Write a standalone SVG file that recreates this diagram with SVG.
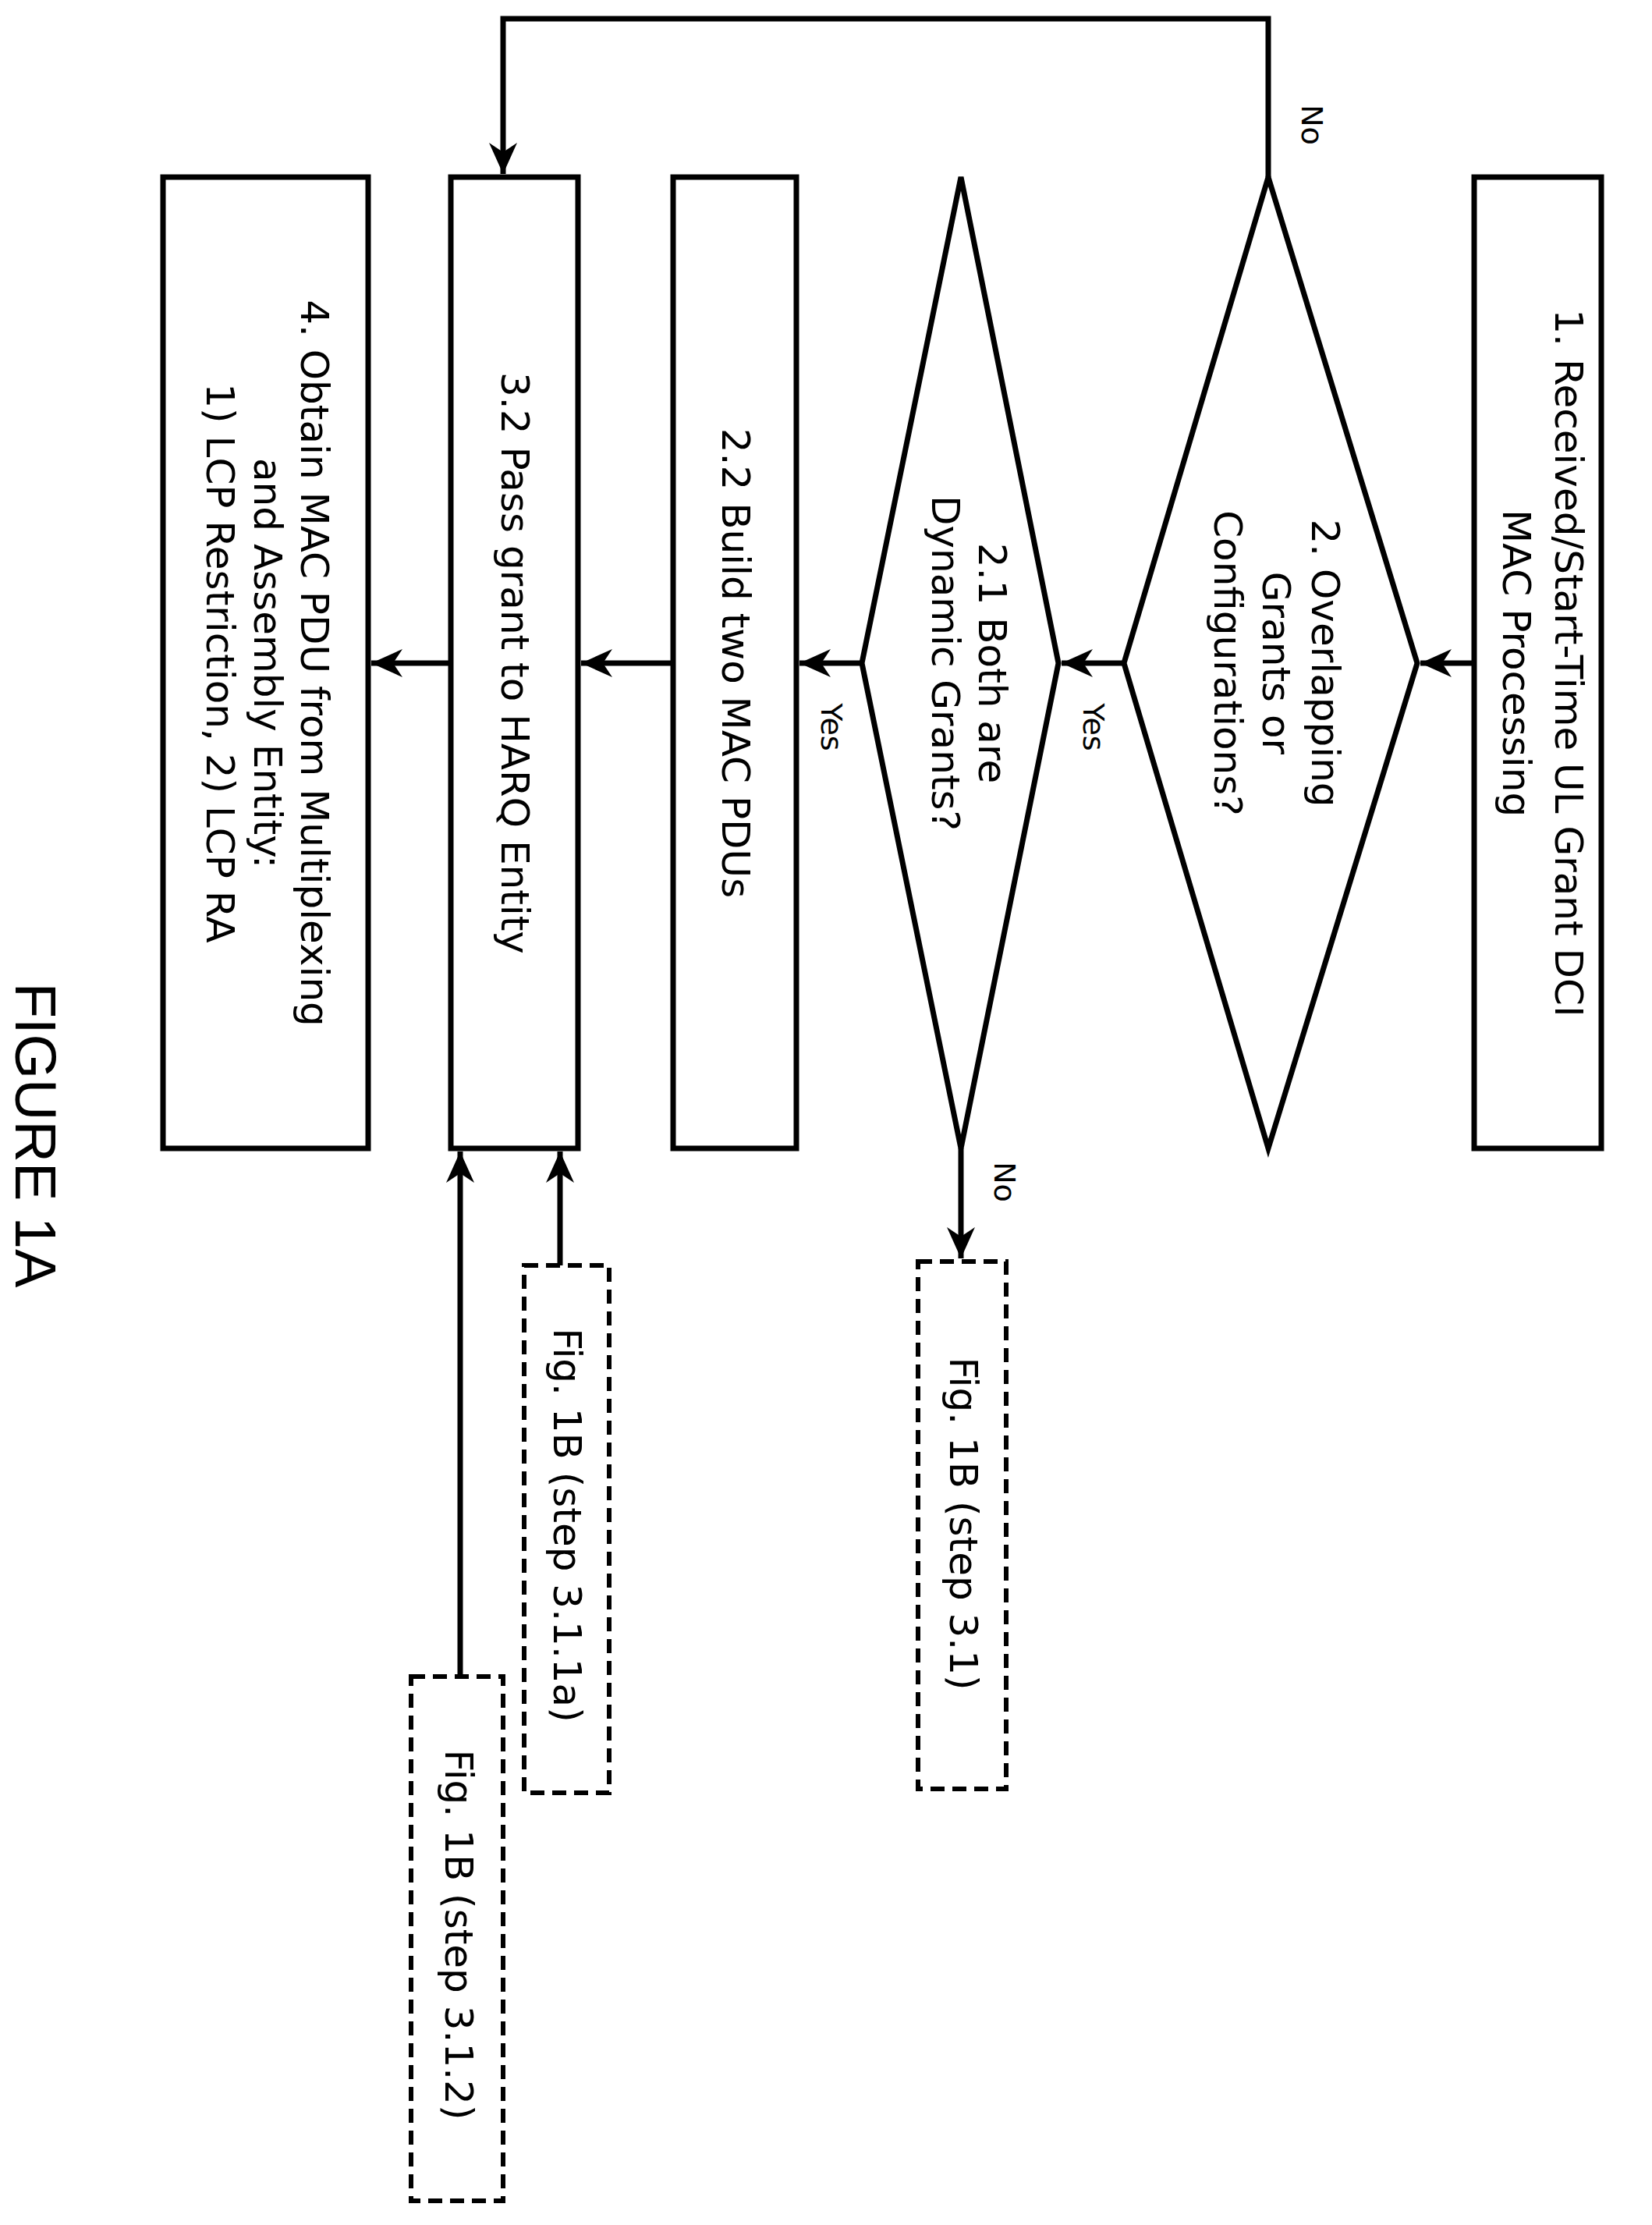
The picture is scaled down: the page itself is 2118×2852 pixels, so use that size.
<svg xmlns="http://www.w3.org/2000/svg" width="2118" height="2852" viewBox="0 0 2118 2852">
<style>
.n{fill:#fff;stroke:#000;stroke-width:7}
.d{fill:#fff;stroke:#000;stroke-width:6;stroke-dasharray:18 10}
.c{fill:none;stroke:#000;stroke-width:7}
text{font-family:"DejaVu Sans",sans-serif;font-size:50px;text-anchor:middle;dominant-baseline:central;fill:#000}
.s{font-size:38px}
.f{font-family:"Liberation Sans",Arial,sans-serif;font-size:74px}
</style>
<defs>
<marker id="a" markerUnits="userSpaceOnUse" markerWidth="50" markerHeight="50" refX="40" refY="20" orient="auto" viewBox="0 0 50 40">
<path d="M0,2 L40,20 L0,38 L12,20 Z" fill="#000"/>
</marker>
</defs>
<g id="n1"><rect class="n" x="1890" y="227" width="163" height="1245"/>
<text transform="translate(2011,850) rotate(90)">1. Received/Start-Time UL Grant DCI</text>
<text transform="translate(1944,850) rotate(90)">MAC Processing</text></g>
<g id="n2"><polygon class="n" points="1626,227 1817,850 1626,1472 1441,850"/>
<text transform="translate(1699,850) rotate(90)">2. Overlapping</text>
<text transform="translate(1636,850) rotate(90)">Grants or</text>
<text transform="translate(1574,850) rotate(90)">Configurations?</text></g>
<g id="n21"><polygon class="n" points="1232,227 1357,850 1232,1472 1105,850"/>
<text transform="translate(1272,850) rotate(90)">2.1 Both are</text>
<text transform="translate(1212,850) rotate(90)">Dynamic Grants?</text></g>
<g id="n22"><rect class="n" x="863" y="227" width="158" height="1245"/>
<text transform="translate(943,850) rotate(90)">2.2 Build two MAC PDUs</text></g>
<g id="n32"><rect class="n" x="578" y="227" width="163" height="1245"/>
<text transform="translate(660,850) rotate(90)">3.2 Pass grant to HARQ Entity</text></g>
<g id="n4"><rect class="n" x="209" y="227" width="263" height="1245"/>
<text transform="translate(403,850) rotate(90)">4. Obtain MAC PDU from Multiplexing</text>
<text transform="translate(343,850) rotate(90)">and Assembly Entity:</text>
<text transform="translate(282,850) rotate(90)">1) LCP Restriction, 2) LCP RA</text></g>
<g id="r31"><rect class="d" x="1177" y="1617" width="113" height="676"/>
<text transform="translate(1235,1953) rotate(90)">Fig. 1B (step 3.1)</text></g>
<g id="r311a"><rect class="d" x="672" y="1622" width="109" height="676"/>
<text transform="translate(727,1955) rotate(90)">Fig. 1B (step 3.1.1a)</text></g>
<g id="r312"><rect class="d" x="527" y="2149" width="118" height="672"/>
<text transform="translate(588,2480) rotate(90)">Fig. 1B (step 3.1.2)</text></g>
<g id="connectors">
<line class="c" x1="1890" y1="850" x2="1821" y2="850" marker-end="url(#a)"/>
<line class="c" x1="1441" y1="850" x2="1361" y2="850" marker-end="url(#a)"/>
<line class="c" x1="1105" y1="850" x2="1025" y2="850" marker-end="url(#a)"/>
<line class="c" x1="863" y1="850" x2="745" y2="850" marker-end="url(#a)"/>
<line class="c" x1="578" y1="850" x2="476" y2="850" marker-end="url(#a)"/>
<polyline class="c" points="1626,227 1626,24 645,24 645,223" marker-end="url(#a)"/>
<line class="c" x1="1232" y1="1472" x2="1232" y2="1613" marker-end="url(#a)"/>
<line class="c" x1="718" y1="1622" x2="718" y2="1476" marker-end="url(#a)"/>
<line class="c" x1="590" y1="2149" x2="590" y2="1476" marker-end="url(#a)"/>
<text class="s" transform="translate(1682,160) rotate(90)">No</text>
<text class="s" transform="translate(1402,932) rotate(90)">Yes</text>
<text class="s" transform="translate(1066,932) rotate(90)">Yes</text>
<text class="s" transform="translate(1288,1515) rotate(90)">No</text>
</g>
<text class="f" transform="translate(45,1455) rotate(90)">FIGURE 1A</text>
</svg>
